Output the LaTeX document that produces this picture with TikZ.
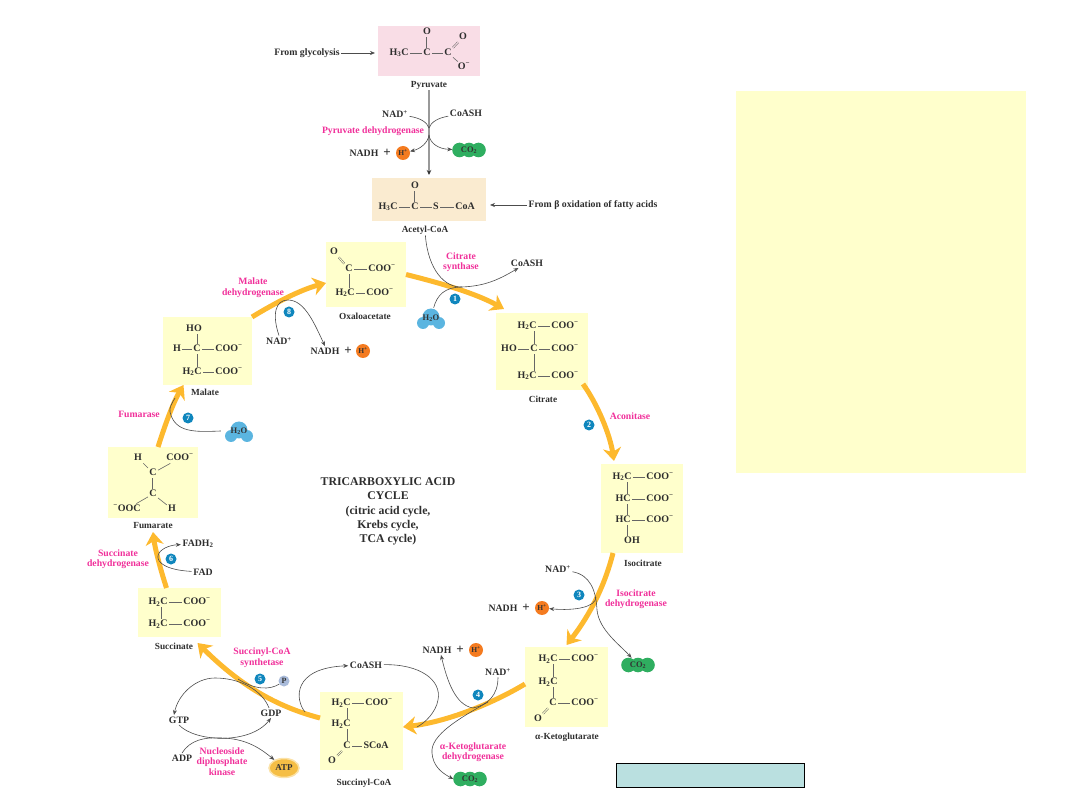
\documentclass[tikz,border=0pt]{standalone}
\usepackage{fontspec}
\setmainfont{Liberation Serif}
\usetikzlibrary{arrows.meta,shapes.geometric}

\definecolor{molyellow}{HTML}{FFFFCC}
\definecolor{pyrpink}{HTML}{F9DDE6}
\definecolor{acetan}{HTML}{FAEBD0}
\definecolor{enzpink}{HTML}{F0309A}
\definecolor{cycorange}{HTML}{FDB92E}
\definecolor{stepblue}{HTML}{0F86BD}
\definecolor{cotwogreen}{HTML}{2FAE60}
\definecolor{hplus}{HTML}{F47B20}
\definecolor{waterblue}{HTML}{5BB5E0}
\definecolor{phosblue}{HTML}{A9BBDA}
\definecolor{atpfill}{HTML}{F5BE45}
\definecolor{atpglow}{HTML}{FBE2A8}
\definecolor{tealbox}{HTML}{BAE0E0}
\definecolor{inktext}{HTML}{2E2E2E}

\newcommand{\coo}{COO\textsuperscript{−}}
\newcommand{\hthree}{H\textsubscript{3}C}
\newcommand{\htwo}{H\textsubscript{2}C}
\newcommand{\cotwoblob}[3]{
\fill[cotwogreen] (#2-9.5,#3) circle (7.3) (#2,#3) circle (7.3) (#2+9.5,#3) circle (7.3);
\node[blobtext,minimum width=33pt,minimum height=14pt] (#1) at (#2,#3) {CO\textsubscript{2}};
}
\newcommand{\waterblob}[3]{
\fill[waterblue] (#2,#3-1) circle (8.5) (#2-8,#3+5) circle (6) (#2+8,#3+5) circle (6);
\node[blobtext,minimum width=20pt,minimum height=20pt] (#1) at (#2,#3) {H\textsubscript{2}O};
}

\tikzset{
molbox/.style={fill=#1,inner sep=0pt,outer sep=0pt},
atom/.style={font=\fontsize{10}{11}\selectfont\bfseries,text=inktext,inner sep=1.2pt,text height=6.5pt,text depth=1.5pt},
molname/.style={font=\fontsize{9.3}{10}\selectfont\bfseries,text=inktext,inner sep=1pt},
cof/.style={font=\fontsize{9.8}{11}\selectfont\bfseries,text=inktext,inner sep=1.5pt},
plussign/.style={font=\fontsize{13}{13}\selectfont\bfseries,text=inktext,inner sep=0pt},
enzyme/.style={font=\fontsize{9.7}{10.5}\selectfont\bfseries,text=enzpink,align=center,inner sep=0pt},
title/.style={font=\fontsize{11.8}{14.3}\selectfont\bfseries,text=inktext,align=center},
blobtext/.style={font=\fontsize{8.5}{9}\selectfont\bfseries,text=black!80,inner sep=0pt},
stepnum/.style={circle,fill=stepblue,text=white,font=\fontsize{8}{8}\selectfont\bfseries,minimum size=11pt,inner sep=0pt},
hion/.style={circle,fill=hplus,text=black!80,font=\fontsize{7.5}{8}\selectfont\bfseries,minimum size=14pt,inner sep=0pt},
bond/.style={line width=0.6pt,draw=black!60},
dbond/.style={line width=0.5pt,draw=black!60,double=molyellow,double distance=1pt},
cycle/.style={line width=5pt,draw=cycorange,-{Stealth[length=13pt,width=18pt,inset=4pt]}},
thin/.style={line width=0.6pt,draw=black!70},
thinarrow/.style={thin,-{Stealth[length=5pt,width=4pt]}},
}

\begin{document}
\begin{tikzpicture}[x=1pt,y=-1pt]
\useasboundingbox (0,0) rectangle (1080,810);

\node[molbox=molyellow,minimum width=290pt,minimum height=382pt] (note) at (881,282) {};
\node[molbox=tealbox,draw=black,line width=1pt,minimum width=188pt,minimum height=24pt] (refbox) at (710,775) {};

\node[molbox=pyrpink,minimum width=102pt,minimum height=50pt] (pyr) at (429,51) {};
\node[molbox=acetan,minimum width=114pt,minimum height=43pt] (ace) at (429,199.5) {};
\node[molbox=molyellow,minimum width=80pt,minimum height=65pt] (oxa) at (366,274.5) {};
\node[molbox=molyellow,minimum width=92pt,minimum height=77pt] (cit) at (542,351.5) {};
\node[molbox=molyellow,minimum width=82pt,minimum height=89pt] (iso) at (642,508.5) {};
\node[molbox=molyellow,minimum width=83pt,minimum height=80pt] (ket) at (566.5,687) {};
\node[molbox=molyellow,minimum width=83pt,minimum height=78pt] (suc) at (361.5,731) {};
\node[molbox=molyellow,minimum width=83pt,minimum height=49pt] (sin) at (179.5,612.5) {};
\node[molbox=molyellow,minimum width=90pt,minimum height=71pt] (fum) at (153,482.5) {};
\node[molbox=molyellow,minimum width=89pt,minimum height=68pt] (mal) at (207.5,351) {};

\node[molname] (pyrn) at (429,85) {Pyruvate};
\node[molname] (acen) at (425,230) {Acetyl-CoA};
\node[molname] (oxan) at (365,316) {Oxaloacetate};
\node[molname] (citn) at (543,399) {Citrate};
\node[molname] (ison) at (643,563) {Isocitrate};
\node[molname] (ketn) at (567,737) {α-Ketoglutarate};
\node[molname] (sucn) at (364,783) {Succinyl-CoA};
\node[molname] (sinn) at (174,646) {Succinate};
\node[molname] (fumn) at (153,526) {Fumarate};
\node[molname] (maln) at (205,392) {Malate};

\node[atom] (pyra) at (399,53) {\hthree};
\node[atom] (pyrb) at (427,53) {C};
\node[atom] (pyrc) at (448,53) {C};
\node[atom] (pyrd) at (427,32) {O};
\node[atom] (pyre) at (463,37) {O};
\node[atom] (pyrf) at (464,67) {O\textsuperscript{−}};
\draw[bond] (pyra) -- (pyrb);
\draw[bond] (pyrb) -- (pyrc);
\draw[dbond,double=pyrpink] (pyrb) -- (pyrd);
\draw[dbond,double=pyrpink] (pyrc) -- (pyre);
\draw[bond] (pyrc) -- (pyrf);

\node[atom] (acea) at (388,207) {\hthree};
\node[atom] (aceb) at (415,207) {C};
\node[atom] (acec) at (436,207) {S};
\node[atom] (aced) at (465,207) {CoA};
\node[atom] (acee) at (415,186) {O};
\draw[bond] (acea) -- (aceb);
\draw[bond] (aceb) -- (acec);
\draw[bond] (acec) -- (aced);
\draw[dbond,double=acetan] (aceb) -- (acee);

\node[atom] (oxaa) at (334,252) {O};
\node[atom] (oxab) at (349,269) {C};
\node[atom] (oxac) at (382,269) {\coo};
\node[atom] (oxad) at (345,293) {\htwo};
\node[atom] (oxae) at (380,293) {\coo};
\draw[dbond] (oxaa) -- (oxab);
\draw[bond] (oxab) -- (oxac);
\draw[bond] (oxab) -- (oxab |- oxad.north);
\draw[bond] (oxad) -- (oxae);

\node[atom] (cita) at (527,326) {\htwo};
\node[atom] (citb) at (565,326) {\coo};
\node[atom] (citc) at (509,349) {HO};
\node[atom] (citd) at (534,349) {C};
\node[atom] (cite) at (565,349) {\coo};
\node[atom] (citf) at (527,376) {\htwo};
\node[atom] (citg) at (565,376) {\coo};
\draw[bond] (cita) -- (citb);
\draw[bond] (citc) -- (citd);
\draw[bond] (citd) -- (cite);
\draw[bond] (citf) -- (citg);
\draw[bond] (citd) -- (citd |- cita.south);
\draw[bond] (citd) -- (citd |- citf.north);

\node[atom] (isoa) at (622,477) {\htwo};
\node[atom] (isob) at (660,477) {\coo};
\node[atom] (isoc) at (623,499) {HC};
\node[atom] (isod) at (660,499) {\coo};
\node[atom] (isoe) at (623,520) {HC};
\node[atom] (isof) at (660,520) {\coo};
\node[atom] (isog) at (632,541) {OH};
\draw[bond] (isoa) -- (isob);
\draw[bond] (isoc) -- (isod);
\draw[bond] (isoe) -- (isof);
\draw[bond] (isoc.north -| isog.130) -- (isoa.south -| isog.130);
\draw[bond] (isoe.north -| isog.130) -- (isoc.south -| isog.130);
\draw[bond] (isog.north -| isog.130) -- (isoe.south -| isog.130);

\node[atom] (keta) at (548,659) {\htwo};
\node[atom] (ketb) at (585,659) {\coo};
\node[atom] (ketc) at (548,682) {\htwo};
\node[atom] (ketd) at (553,703) {C};
\node[atom] (kete) at (585,703) {\coo};
\node[atom] (ketf) at (538,719) {O};
\draw[bond] (keta) -- (ketb);
\draw[bond] (ketd) -- (kete);
\draw[bond] (ketd.north) -- (ketd |- ketc.south);
\draw[bond] (ketc.north -| ketd) -- (ketd |- keta.south);
\draw[dbond] (ketd) -- (ketf);

\node[atom] (suca) at (341,703) {\htwo};
\node[atom] (sucb) at (379,703) {\coo};
\node[atom] (succ) at (341,724) {\htwo};
\node[atom] (sucd) at (347,746) {C};
\node[atom] (suce) at (376,746) {SCoA};
\node[atom] (sucf) at (332,761) {O};
\draw[bond] (suca) -- (sucb);
\draw[bond] (sucd) -- (suce);
\draw[bond] (sucd.north) -- (sucd |- succ.south);
\draw[bond] (succ.north -| sucd) -- (sucd |- suca.south);
\draw[dbond] (sucd) -- (sucf);

\node[atom] (sina) at (158,602) {\htwo};
\node[atom] (sinb) at (197,602) {\coo};
\node[atom] (sinc) at (158,624) {\htwo};
\node[atom] (sind) at (197,624) {\coo};
\draw[bond] (sina) -- (sinb);
\draw[bond] (sinc) -- (sind);
\draw[bond] (sina.south) ++(3,0) -- ([xshift=3pt]sinc.north);

\node[atom] (fuma) at (138,458) {H};
\node[atom] (fumb) at (180,458) {\coo};
\node[atom] (fumc) at (153,473) {C};
\node[atom] (fumd) at (153,494) {C};
\node[atom] (fume) at (127,509) {\textsuperscript{−}OOC};
\node[atom] (fumf) at (172,509) {H};
\draw[bond] (fuma) -- (fumc);
\draw[bond] (fumb) -- (fumc);
\draw[dbond] (fumc) -- (fumd);
\draw[bond] (fume) -- (fumd);
\draw[bond] (fumf) -- (fumd);

\node[atom] (mala) at (194,329) {HO};
\node[atom] (malb) at (177,349) {H};
\node[atom] (malc) at (197,349) {C};
\node[atom] (mald) at (229,349) {\coo};
\node[atom] (male) at (192,372) {\htwo};
\node[atom] (malf) at (229,372) {\coo};
\draw[bond] (malb) -- (malc);
\draw[bond] (malc) -- (mald);
\draw[bond] (male) -- (malf);
\draw[bond] (malc) -- (malc |- mala.south);
\draw[bond] (malc) -- (malc |- male.north);

\draw[cycle] (mal.north east) .. controls (275,303) and (300,290) .. ([yshift=-8.5pt]oxa.west);
\draw[cycle] (oxa.east) .. controls (440,283) and (475,293) .. ([xshift=8pt,yshift=4pt]cit.north west);
\draw[cycle] ([xshift=-5pt,yshift=6pt]cit.south east) .. controls (598,405) and (610,435) .. ([xshift=-28pt,yshift=3pt]iso.north);
\draw[cycle] ([xshift=-29pt]iso.south) .. controls (605,585) and (590,615) .. ([yshift=2pt]ket.north);
\draw[cycle] ([yshift=3pt]ket.west) .. controls (490,705) and (445,722) .. ([yshift=4pt]suc.east);
\draw[cycle] ([yshift=13pt]suc.west) .. controls (270,705) and (235,680) .. ([xshift=18pt,yshift=-6pt]sin.south);
\draw[cycle] ([xshift=-13pt]sin.north) .. controls (160,568) and (155,548) .. ([yshift=-14pt]fum.south);
\draw[cycle] ([xshift=5pt]fum.north) .. controls (165,425) and (173,403) .. ([xshift=-24pt]mal.south);

\node[cof] (glyc) at (307,53) {From glycolysis};
\node[cof] (fatty) at (593,205) {From β oxidation of fatty acids};
\node[cof] (nada) at (395,114) {NAD\textsuperscript{+}};
\node[cof] (coaa) at (466,113) {CoASH};
\node[cof] (nadha) at (364,153) {NADH};
\node[plussign] (plusa) at (387,153) {+};
\node[hion] (ha) at (403,153) {H\textsuperscript{+}};
\cotwoblob{cotwoa}{469}{150}
\node[enzyme] (pdh) at (373,131) {Pyruvate dehydrogenase};

\node[cof] (coab) at (527,263) {CoASH};
\node[enzyme] (cs) at (461,262) {Citrate\\synthase};
\node[stepnum] (stepa) at (455,299) {1};
\waterblob{watera}{431}{318}

\node[stepnum] (stepb) at (589,425) {2};
\node[enzyme] (acn) at (630,416) {Aconitase};

\node[cof] (nadc) at (558,569) {NAD\textsuperscript{+}};
\node[stepnum] (stepc) at (579,595) {3};
\node[cof] (nadhc) at (503,608) {NADH};
\node[plussign] (plusc) at (526,608) {+};
\node[hion] (hc) at (542,608) {H\textsuperscript{+}};
\node[enzyme] (idh) at (636,599) {Isocitrate\\dehydrogenase};
\cotwoblob{cotwoc}{638}{665}

\node[cof] (nadhd) at (437,650) {NADH};
\node[plussign] (plusd) at (460,650) {+};
\node[hion] (hd) at (476,650) {H\textsuperscript{+}};
\node[cof] (nadd) at (498,672) {NAD\textsuperscript{+}};
\node[stepnum] (stepd) at (478,695) {4};
\node[enzyme] (kdh) at (473,752) {α-Ketoglutarate\\dehydrogenase};
\cotwoblob{cotwod}{470}{779}

\node[cof] (coae) at (366,665) {CoASH};
\node[enzyme] (scs) at (262,657.5) {Succinyl-CoA\\synthetase};
\node[stepnum] (stepe) at (260,679) {5};
\node[circle,fill=phosblue,text=black!80,font=\fontsize{8}{8}\selectfont\bfseries,minimum size=11pt,inner sep=0pt] (phos) at (284,681) {P};
\node[cof] (gdp) at (271,713) {GDP};
\node[cof] (gtp) at (179,720) {GTP};
\node[cof] (adp) at (182,758) {ADP};
\node[ellipse,fill=atpfill,draw=atpglow,line width=1.5pt,font=\fontsize{9}{10}\selectfont\bfseries,text=black!80,minimum width=30pt,minimum height=19pt,inner sep=0pt] (atp) at (284,768) {ATP};
\node[enzyme] (ndk) at (222,761.5) {Nucleoside\\diphosphate\\kinase};

\node[cof] (fadh) at (198,544) {FADH\textsubscript{2}};
\node[cof] (fad) at (203,572) {FAD};
\node[stepnum] (stepf) at (171,559) {6};
\node[enzyme] (sdh) at (118,559) {Succinate\\dehydrogenase};

\node[enzyme] (fmr) at (139,414) {Fumarase};
\node[stepnum] (stepg) at (188,418) {7};
\waterblob{waterb}{239}{431}

\node[enzyme] (mdh) at (253,287.5) {Malate\\dehydrogenase};
\node[stepnum] (steph) at (289,312) {8};
\node[cof] (nadb) at (279,341) {NAD\textsuperscript{+}};
\node[cof] (nadhb) at (325,351) {NADH};
\node[plussign] (plusb) at (348,351) {+};
\node[hion] (hb) at (363,351) {H\textsuperscript{+}};

\node[title] (tca) at (388,511.5) {TRICARBOXYLIC ACID\\CYCLE\\(citric acid cycle,\\Krebs cycle,\\TCA cycle)};

\coordinate (pdhin) at (429,128);
\coordinate (pdhout) at (429,135);
\coordinate (csj) at (462,287);
\coordinate (icdj) at (596,597);
\coordinate (kgj) at (473,708);
\coordinate (kgk) at (488,702);
\coordinate (cosa) at (305,712);
\coordinate (cosb) at (417,727);
\coordinate (gdpj) at (238,679);
\coordinate (fmrj) at (175,398);

\draw[thinarrow] (glyc) -- ([xshift=-3pt]pyr.west |- glyc);
\draw[thinarrow] (fatty) -- ([xshift=4pt]ace.east |- fatty);
\draw[line width=1.2pt,draw=black!40,-{Stealth[length=5pt,width=4.5pt,black!80]}] (pyrn) -- ([yshift=3pt]pyrn |- ace.north);
\draw[thin] (nada) .. controls (420,118) and (427,122) .. (pdhin);
\draw[thin] (coaa) .. controls (438,118) and (431,122) .. (pdhin);
\draw[thinarrow] (pdhout) .. controls (428,143) and (420,149) .. (ha);
\draw[thinarrow] (pdhout) .. controls (430,143) and (438,149) .. (cotwoa);

\draw[thinarrow] (acen) .. controls (428,270) and (445,288) .. (csj) .. controls (485,286) and (498,280) .. (coab);
\draw[thin] (watera) .. controls (437,295) and (445,287) .. (csj);

\draw[thinarrow] (nadc) .. controls (590,575) and (596,590) .. (597,610) .. controls (599,630) and (620,645) .. (cotwoc);
\draw[thinarrow] (icdj) .. controls (596,607) and (575,611) .. (hc);

\draw[thin] (nadd) .. controls (498,695) and (488,705) .. (kgj);
\draw[thinarrow] (kgj) .. controls (455,705) and (447,680) .. ([xshift=4pt]nadhd.south);
\draw[thinarrow] (kgk) .. controls (460,718) and (430,735) .. (432,753) .. controls (433,765) and (440,772) .. (cotwod.west);

\draw[thinarrow] (cosa) .. controls (295,700) and (292,668) .. (coae);
\draw[thin] (coae) .. controls (420,664) and (442,680) .. (438,700) .. controls (436,712) and (425,723) .. (cosb);

\draw[thinarrow] (gdp) .. controls (262,690) and (240,678) .. (215,678) .. controls (195,678) and (178,695) .. ([xshift=-5pt]gtp.north);
\draw[thin] (phos) .. controls (270,690) and (255,690) .. (gdpj);
\draw[thinarrow] (gtp.south) .. controls (195,742) and (250,745) .. (gdp.south);
\draw[thinarrow] (adp.north) .. controls (190,740) and (205,737) .. (220,738) .. controls (245,738) and (260,748) .. (atp);

\draw[thinarrow] (fad) .. controls (165,570) and (157,562) .. (158,556) .. controls (159,549) and (170,545) .. (fadh);

\draw[thin] ([xshift=-8pt]waterb.west) .. controls (195,432) and (175,433) .. (170,412) .. controls (169,408) and (172,403) .. (fmrj);

\draw[thinarrow] (nadb.north) .. controls (272,315) and (275,300) .. (288,300) .. controls (305,300) and (315,325) .. (nadhb.north);

\end{tikzpicture}
\end{document}
